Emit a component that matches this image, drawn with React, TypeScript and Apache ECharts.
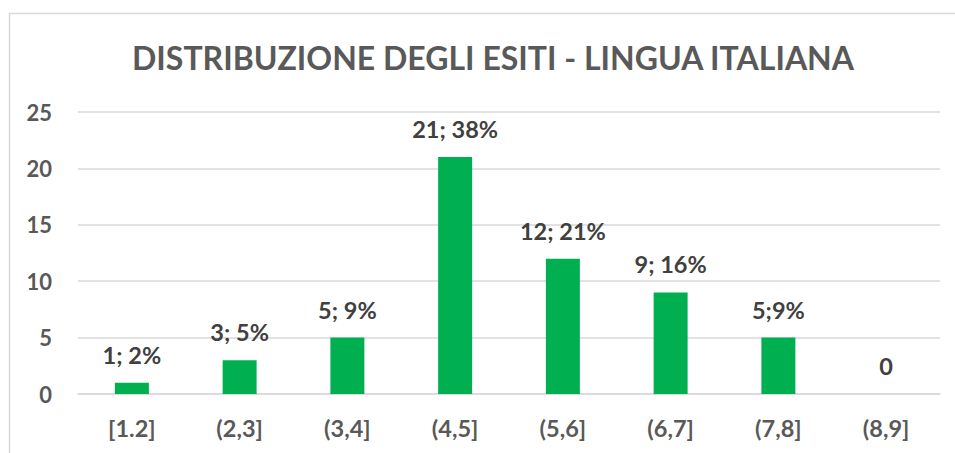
import React, { useEffect, useRef } from "react";
import * as echarts from "echarts";

const categories = ["[1.2]", "(2,3]", "(3,4]", "(4,5]", "(5,6]", "(6,7]", "(7,8]", "(8,9]"];
const counts = [1, 3, 5, 21, 12, 9, 5, 0];
const dataLabels = ["1; 2%", "3; 5%", "5; 9%", "21; 38%", "12; 21%", "9; 16%", "5;9%", "0"];
const titleText = "DISTRIBUZIONE DEGLI ESITI - LINGUA ITALIANA";

const FONT = "Lato, 'Open Sans', sans-serif";

export default function App() {
  const ref = useRef<HTMLDivElement>(null);
  useEffect(() => {
    if (!ref.current) return;
    const chart = echarts.init(ref.current, undefined, { renderer: "svg" });
    chart.setOption({
      animation: false,
      backgroundColor: "#ffffff",
      title: {
        text: titleText,
        left: 127,
        top: 36,
        textStyle: { fontFamily: FONT, fontWeight: "bold", fontSize: 32, color: "#595959" },
      },
      graphic: [
        {
          type: "rect",
          shape: { x: 9.5, y: 13.5, width: 1000, height: 500 },
          style: { fill: "none", stroke: "#D9D9D9", lineWidth: 1.5 },
          silent: true,
        },
      ],
      grid: { left: 78, right: 15, top: 112, bottom: 59, containLabel: false },
      xAxis: {
        type: "category",
        data: categories,
        axisLine: { show: true, lineStyle: { color: "#D9D9D9", width: 1.5 } },
        axisTick: { show: false },
        axisLabel: {
          fontFamily: FONT,
          fontWeight: "bold",
          fontSize: 23.5,
          color: "#595959",
          margin: 22,
        },
      },
      yAxis: {
        type: "value",
        min: 0,
        max: 25,
        interval: 5,
        axisLine: { show: false },
        axisTick: { show: false },
        splitLine: { lineStyle: { color: "#D9D9D9", width: 1.5 } },
        axisLabel: {
          fontFamily: FONT,
          fontWeight: "bold",
          fontSize: 22,
          color: "#595959",
          margin: 26,
        },
      },
      series: [
        {
          type: "bar",
          data: counts.map((v, i) => ({ value: v, label: { formatter: dataLabels[i] } })),
          barWidth: 34,
          itemStyle: { color: "#00B050" },
          label: {
            show: true,
            position: "top",
            distance: 16,
            fontFamily: FONT,
            fontWeight: "bold",
            fontSize: 23.5,
            color: "#404040",
          },
        },
      ],
    });
    return () => chart.dispose();
  }, []);
  return (
    <div
      ref={ref}
      style={{ position: "fixed", left: 0, top: 0, width: 955, height: 453 }}
    />
  );
}
